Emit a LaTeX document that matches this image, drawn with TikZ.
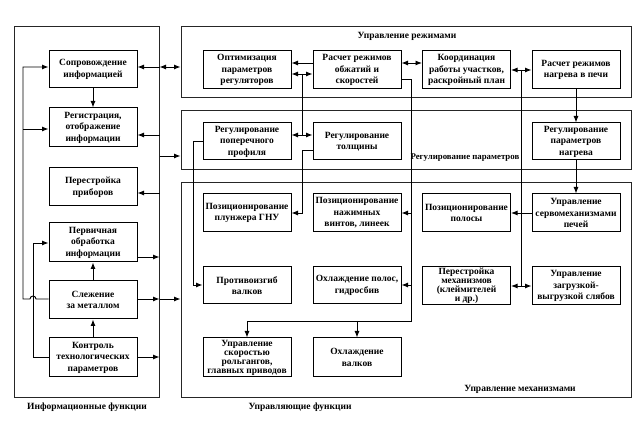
\documentclass[tikz,border=0pt]{standalone}
\usepackage{fontspec}
\setmainfont{Liberation Serif}
\usetikzlibrary{arrows.meta,calc}
\tikzset{
  blk/.style={draw, line width=1pt, minimum width=88pt, minimum height=38pt, align=center, inner sep=1pt, font=\fontsize{9.5}{11.5}\selectfont\bfseries},
  tight/.style={font=\fontsize{9.5}{9}\selectfont\bfseries},
  grp/.style={draw, line width=1pt, inner sep=0pt, black!85},
  lbl/.style={font=\fontsize{9.5}{11.5}\selectfont\bfseries, inner sep=0pt},
  con/.style={line width=0.9pt},
  arr/.style={con, -{Latex[length=6.5pt,width=5pt]}},
  darr/.style={con, {Latex[length=6.5pt,width=5pt]}-{Latex[length=6.5pt,width=5pt]}},
}
\begin{document}
\begin{tikzpicture}[x=1pt,y=-1pt]
\useasboundingbox (0,0) rectangle (643,438);
% group boxes
\node[grp, minimum width=145pt, minimum height=371pt] (info) at (86.5,212.5) {};
\node[grp, minimum width=450pt, minimum height=71pt] (rezh) at (406,62.5) {};
\node[grp, minimum width=450pt, minimum height=59pt] (param) at (406,140.5) {};
\node[grp, minimum width=450pt, minimum height=215pt] (mech) at (406,290.5) {};
\node[lbl] (linfo) at (87,407) {Информационные функции};
\node[lbl] (lrezh) at (407,36) {Управление режимами};
\node[lbl, anchor=east, font=\fontsize{8.8}{10}\selectfont\bfseries] (lparam) at (519.5,158) {Регулирование параметров};
\node[lbl] (lmech) at (520,389) {Управление механизмами};
\node[lbl] (lupr) at (300,407) {Управляющие функции};
% left boxes
\node[blk, minimum height=37pt] (sopr) at (93,69.5) {Сопровождение\\информацией};
\node[blk, minimum height=39pt] (reg) at (93,127.5) {Регистрация,\\отображение\\информации};
\node[blk] (perpr) at (93,187) {Перестройка\\приборов};
\node[blk, minimum height=39pt] (perv) at (93,242.5) {Первичная\\обработка\\информации};
\node[blk] (slezh) at (93,300) {Слежение\\за металлом};
\node[blk, minimum height=39pt] (kontr) at (93,357.5) {Контроль\\технологических\\параметров};
% right boxes
\node[blk] (opt) at (247,70) {Оптимизация\\параметров\\регуляторов};
\node[blk] (rasch) at (357,70) {Расчет режимов\\обжатий и\\скоростей};
\node[blk] (koord) at (466.5,70) {Координация\\работы участков,\\раскройный план};
\node[blk] (nagr) at (576,70) {Расчет режимов\\нагрева в печи};
\node[blk, minimum height=37pt] (prof) at (247,141.5) {Регулирование\\поперечного\\профиля};
\node[blk, minimum height=37pt] (tolsh) at (357,141.5) {Регулирование\\толщины};
\node[blk, minimum height=37pt] (regnagr) at (576,141.5) {Регулирование\\параметров\\нагрева};
\node[blk] (plunzh) at (247,213) {Позиционирование\\плунжера ГНУ};
\node[blk] (nazh) at (357,213) {Позиционирование\\нажимных\\винтов, линеек};
\node[blk] (pospol) at (466.5,213) {Позиционирование\\полосы};
\node[blk] (servo) at (576,213) {Управление\\сервомеханизмами\\печей};
\node[blk, minimum height=37pt] (protiv) at (247,285.5) {Противоизгиб\\валков};
\node[blk, minimum height=37pt] (ohlpol) at (357,285.5) {Охлаждение полос,\\гидросбив};
\node[blk, tight, minimum height=38pt] (perestr) at (466.5,286) {Перестройка\\механизмов\\(клеймителей\\и др.)};
\node[blk, minimum height=38pt] (zagr) at (576,286) {Управление\\загрузкой-\\выгрузкой слябов};
\node[blk, tight, minimum height=39pt] (skor) at (247,357.5) {Управление\\скоростью\\рольгангов,\\главных приводов};
\node[blk, minimum height=39pt] (ohlval) at (357,357.5) {Охлаждение\\валков};
% helper levels
\coordinate (h63) at (0,63);
\coordinate (h67) at (0,67);
\coordinate (h70) at (0,70);
\coordinate (h74) at (0,74);
\coordinate (h79) at (0,79);
\coordinate (h129) at (0,129);
\coordinate (h135) at (0,135);
\coordinate (h141) at (0,141);
\coordinate (h150) at (0,150);
\coordinate (h156) at (0,156);
\coordinate (h193) at (0,193);
\coordinate (h243) at (0,243);
\coordinate (h257) at (0,257);
\coordinate (h285) at (0,285);
\coordinate (h286) at (0,286);
\coordinate (h299) at (0,299);
\coordinate (h321) at (0,321);
\coordinate (h357) at (0,357);
\coordinate (v23) at (23,0);
\coordinate (v33) at (33,0);
\coordinate (v193) at (193,0);
\coordinate (v302) at (302,0);
\coordinate (v411) at (411,0);
\coordinate (v521) at (521,0);
% left connectors
\draw[arr] (sopr.south) -- (reg.north);
\draw[arr] (slezh.north) -- (perv.south);
\draw[arr] (kontr.north) -- (slezh.south);
\draw[arr] (slezh.west|-h299) -- ($(v33|-h299)+(3,0)$) arc[start angle=0,end angle=-180,radius=3] -- (v23|-h299) -- (v23|-h67) -- (sopr.west|-h67);
\draw[arr] (v23|-h129) -- (reg.west|-h129);
\draw[arr] (kontr.west|-h357) -- (v33|-h357) -- (v33|-h243) -- (perv.west|-h243);
\draw[arr] (info.east|-h67) -- (sopr.east|-h67);
\draw[darr] (info.east|-h67) -- (rezh.west|-h67);
\draw[arr] (info.east|-h135) -- (reg.east|-h135);
\draw[arr] (info.east|-h193) -- (perpr.east|-h193);
\draw[arr] (info.east|-h156) -- (param.west|-h156);
\draw[arr] (perv.east|-h257) -- (info.east|-h257);
\draw[arr] (slezh.east|-h299) -- (info.east|-h299);
\draw[arr] (info.east|-h299) -- (mech.west|-h299);
\draw[arr] (kontr.east|-h357) -- (info.east|-h357);
% right connectors
\draw[arr] (rasch.west|-h63) -- (opt.east|-h63);
\draw[darr] (opt.east|-h74) -- (rasch.west|-h74);
\draw[con] (v302|-h74) -- (v302|-h135);
\draw[darr] (prof.east|-h135) -- (tolsh.west|-h135);
\draw[darr] (rasch.east|-h63) -- (koord.west|-h63);
\draw[darr] (koord.east|-h70) -- (nagr.west|-h70);
\draw[con] (v521|-h70) -- (v521|-h286);
\draw[darr] (perestr.east|-h286) -- (zagr.west|-h286);
\draw[arr] (nagr.south) -- (regnagr.north);
\draw[arr] (regnagr.south) -- (servo.north);
\draw[arr] (servo.west) -- (pospol.east);
\draw[arr] (rasch.east|-h79) -- (v411|-h79) -- (v411|-h321) -- (skor.north|-h321) -- (skor.north);
\draw[arr] (v411|-nazh.east) -- (nazh.east);
\draw[arr] (v411|-h285) -- (ohlpol.east|-h285);
\draw[arr] (ohlval.north|-h321) -- (ohlval.north);
\draw[arr] (prof.west|-h141) -- (v193|-h141) -- (v193|-h285) -- (protiv.west|-h285);
\draw[arr] (tolsh.west|-h150) -- (v302|-h150) -- (v302|-plunzh.east) -- (plunzh.east);
\end{tikzpicture}
\end{document}
